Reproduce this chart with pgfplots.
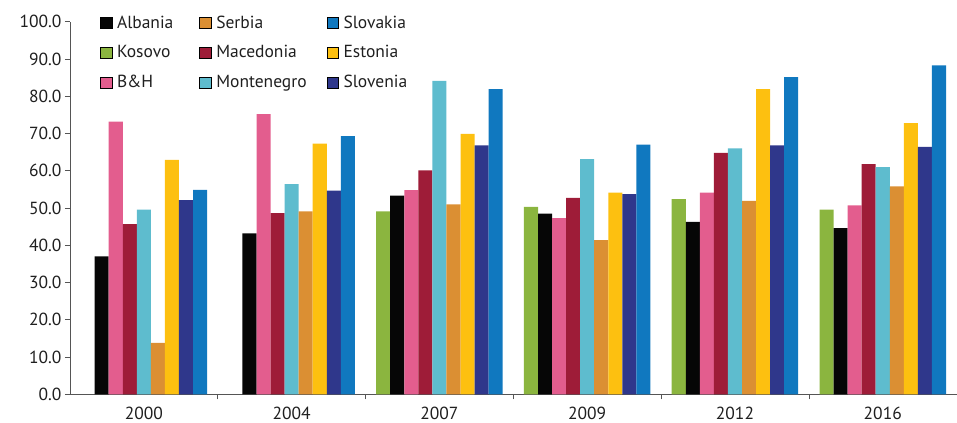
\documentclass[border=0pt]{standalone}
\usepackage{fontspec}
\setmainfont{PT Sans}
\usepackage{pgfplots}
\pgfplotsset{compat=1.18}
\definecolor{cKosovo}{HTML}{8BB53F}
\definecolor{cAlbania}{HTML}{060606}
\definecolor{cBH}{HTML}{E35D8E}
\definecolor{cMacedonia}{HTML}{9E1C38}
\definecolor{cMontenegro}{HTML}{5EBCCE}
\definecolor{cSerbia}{HTML}{DB8F33}
\definecolor{cEstonia}{HTML}{FDC010}
\definecolor{cSlovenia}{HTML}{2F378B}
\definecolor{cSlovakia}{HTML}{1078BF}
\definecolor{axisgray}{HTML}{555555}
\begin{document}
\begin{tikzpicture}
\begin{axis}[
  at={(0,0)}, anchor=south west,
  scale only axis, width=887bp, height=372.8bp,
  xmin=-0.5, xmax=5.5, ymin=0, ymax=100,
  axis x line*=bottom, axis y line*=left,
  axis line style={-, draw=axisgray, line width=0.7bp},
  xtick={0.5,1.5,2.5,3.5,4.5},
  xticklabels={},
  xtick style={draw=axisgray, line width=0.7bp},
  extra x ticks={0,1,2,3,4,5},
  extra x tick labels={2000,2004,2007,2009,2012,2016},
  extra x tick style={major tick length=0pt, tick style={draw=none},
    xticklabel style={yshift=-9bp}},
  ytick={0,10,...,100},
  ytick style={draw=axisgray, line width=0.7bp},
  tick align=outside, major tick length=5bp,
  yticklabel style={/pgf/number format/.cd, fixed, fixed zerofill, precision=1, assume math mode=true},
  tick label style={font=\fontsize{17.5bp}{20bp}\selectfont, text=black!88},
  legend columns=3,
  legend cell align=left,
  legend style={draw=none, fill=none, at={(0.0338,1.022)}, anchor=north west, inner sep=0pt,
    font=\fontsize{17.5bp}{20bp}\selectfont, text=black!88, row sep=12bp,
    /tikz/every odd column/.append style={column sep=3bp},
    /tikz/column 2/.style={column sep=24bp},
    /tikz/column 4/.style={column sep=18bp}},
  legend image code/.code={\fill[#1] (0bp,-5.6bp) rectangle (11.5bp,5.6bp);},
]
\addlegendimage{fill=cAlbania}\addlegendentry{Albania}
\addlegendimage{fill=cSerbia}\addlegendentry{Serbia}
\addlegendimage{fill=cSlovakia}\addlegendentry{Slovakia}
\addlegendimage{fill=cKosovo}\addlegendentry{Kosovo}
\addlegendimage{fill=cMacedonia}\addlegendentry{Macedonia}
\addlegendimage{fill=cEstonia}\addlegendentry{Estonia}
\addlegendimage{fill=cBH}\addlegendentry{B\&H}
\addlegendimage{fill=cMontenegro}\addlegendentry{Montenegro}
\addlegendimage{fill=cSlovenia}\addlegendentry{Slovenia}

\addplot[ybar, forget plot, bar width=0.0951, bar shift=-0.3804, fill=cKosovo, draw=none]
  coordinates {(2,49.1) (3,50.3) (4,52.4) (5,49.6)};
\addplot[ybar, forget plot, bar width=0.0951, bar shift=-0.2853, fill=cAlbania, draw=none]
  coordinates {(0,37.0) (1,43.2) (2,53.3) (3,48.5) (4,46.3) (5,44.6)};
\addplot[ybar, forget plot, bar width=0.0951, bar shift=-0.1902, fill=cBH, draw=none]
  coordinates {(0,73.2) (1,75.2) (2,54.8) (3,47.3) (4,54.1) (5,50.7)};
\addplot[ybar, forget plot, bar width=0.0951, bar shift=-0.0951, fill=cMacedonia, draw=none]
  coordinates {(0,45.7) (1,48.6) (2,60.1) (3,52.7) (4,64.8) (5,61.8)};
\addplot[ybar, forget plot, bar width=0.0951, bar shift=0, fill=cMontenegro, draw=none]
  coordinates {(0,49.6) (1,56.4) (2,84.1) (3,63.1) (4,66.0) (5,61.0)};
\addplot[ybar, forget plot, bar width=0.0951, bar shift=0.0951, fill=cSerbia, draw=none]
  coordinates {(0,13.8) (1,49.1) (2,51.0) (3,41.4) (4,51.9) (5,55.8)};
\addplot[ybar, forget plot, bar width=0.0951, bar shift=0.1902, fill=cEstonia, draw=none]
  coordinates {(0,62.9) (1,67.3) (2,69.9) (3,54.1) (4,81.9) (5,72.8)};
\addplot[ybar, forget plot, bar width=0.0951, bar shift=0.2853, fill=cSlovenia, draw=none]
  coordinates {(0,52.1) (1,54.7) (2,66.8) (3,53.7) (4,66.8) (5,66.4)};
\addplot[ybar, forget plot, bar width=0.0951, bar shift=0.3804, fill=cSlovakia, draw=none]
  coordinates {(0,54.9) (1,69.3) (2,81.9) (3,67.0) (4,85.1) (5,88.3)};
\end{axis}
\path (-70bp,-28.5bp) rectangle (887bp,394.5bp);
\end{tikzpicture}
\end{document}
